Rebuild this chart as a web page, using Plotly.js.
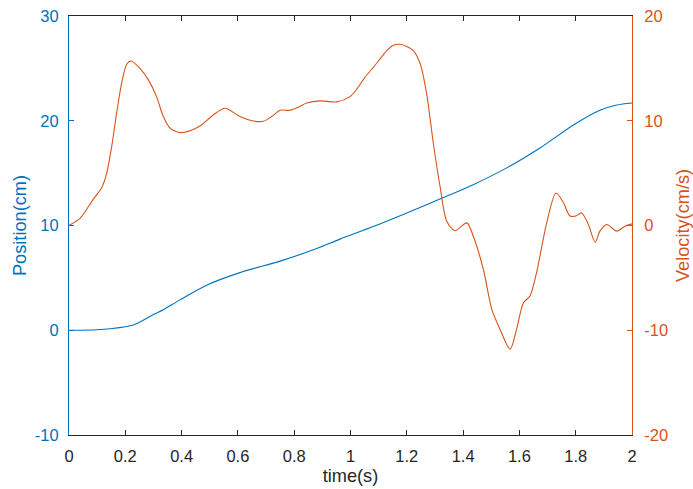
<!DOCTYPE html>
<html>
<head>
<meta charset="utf-8">
<script src="https://cdn.plot.ly/plotly-3.0.1.min.js"></script>
<style>
  html, body { margin: 0; padding: 0; background: #ffffff; }
  #chart { width: 693px; height: 489px; }
</style>
</head>
<body>
<div id="chart"></div>
<script>
// Position of the cart over time (left axis)
const posTime = [0, 0.1, 0.146, 0.229, 0.30, 0.335, 0.394, 0.489, 0.607, 0.75, 0.88, 0.963,
                 1.081, 1.2, 1.324, 1.436, 1.555, 1.673, 1.792, 1.886, 1.946, 2.0];
const position = [0, 0.05, 0.14, 0.5, 1.5, 1.95, 2.9, 4.3, 5.5, 6.6, 7.8, 8.7,
                  9.9, 11.2, 12.6, 13.9, 15.5, 17.4, 19.6, 21.0, 21.5, 21.7];

// Velocity over time (right axis)
const velTime = [0, 0.04, 0.086, 0.116, 0.134, 0.152, 0.169, 0.187, 0.205, 0.22, 0.252, 0.282,
                 0.311, 0.335, 0.359, 0.388, 0.41, 0.465, 0.51, 0.554, 0.607, 0.65, 0.69, 0.72,
                 0.75, 0.785, 0.815, 0.844, 0.892, 0.951, 0.998, 1.022, 1.05, 1.081, 1.105, 1.129,
                 1.152, 1.175, 1.2, 1.223, 1.247, 1.271, 1.294, 1.318, 1.342, 1.371, 1.413, 1.436,
                 1.472, 1.502, 1.531, 1.567, 1.59, 1.614, 1.638, 1.661, 1.697, 1.73, 1.756, 1.78,
                 1.80, 1.821, 1.845, 1.869, 1.886, 1.91, 1.946, 1.975, 2.0];
const velocity = [0, 0.7, 2.5, 3.6, 5.0, 7.6, 10.7, 13.6, 15.4, 15.7, 15.0, 13.9,
                  12.3, 10.4, 9.3, 8.9, 8.9, 9.5, 10.5, 11.2, 10.4, 10.0, 9.95, 10.4,
                  11.0, 11.0, 11.3, 11.7, 11.9, 11.8, 12.3, 13.0, 14.1, 15.1, 15.9, 16.7,
                  17.2, 17.3, 17.1, 16.7, 15.5, 12.5, 7.9, 3.75, 0.4, -0.5, 0.25, -1.0,
                  -4.2, -8.0, -9.9, -11.8, -9.9, -7.4, -6.7, -4.5, 0.26, 3.1, 2.2, 0.9,
                  0.9, 1.2, 0.1, -1.6, -0.54, 0.1, -0.54, -0.06, 0.16];

const xTicks = [0, 0.2, 0.4, 0.6, 0.8, 1, 1.2, 1.4, 1.6, 1.8, 2];
const xTickText = ['0', '0.2', '0.4', '0.6', '0.8', '1', '1.2', '1.4', '1.6', '1.8', '2'];
const posTicks = [-10, 0, 10, 20, 30];
const posTickText = ['-10', '0', '10', '20', '30'];
const velTicks = [-20, -10, 0, 10, 20];
const velTickText = ['-20', '-10', '0', '10', '20'];

const BLUE = '#0072BD';
const ORANGE = '#D95319';
const DARK = '#262626';
const FONT = 'Liberation Sans, Arial, Helvetica, sans-serif';
const TICK_SIZE = 16.5;
const LABEL_SIZE = 18.2;

const traces = [
  {
    x: posTime, y: position, type: 'scatter', mode: 'lines',
    line: { color: BLUE, width: 1.1, shape: 'spline', smoothing: 0.8 },
    yaxis: 'y', hoverinfo: 'x+y'
  },
  {
    x: velTime, y: velocity, type: 'scatter', mode: 'lines',
    line: { color: ORANGE, width: 1.1, shape: 'spline', smoothing: 0.8 },
    yaxis: 'y2', hoverinfo: 'x+y'
  }
];

const layout = {
  width: 693, height: 489,
  margin: { l: 69, r: 61, t: 16, b: 54, pad: 0 },
  paper_bgcolor: '#ffffff', plot_bgcolor: '#ffffff',
  showlegend: false,
  font: { family: FONT, size: TICK_SIZE, color: DARK },
  xaxis: {
    range: [0, 2], tickvals: xTicks, ticktext: xTickText,
    showgrid: false, zeroline: false,
    showline: true, linecolor: DARK, linewidth: 1, mirror: 'ticks',
    ticks: 'inside', ticklen: 5, tickcolor: DARK, tickwidth: 1,
    tickfont: { family: FONT, size: TICK_SIZE, color: DARK },
    ticklabelstandoff: 6,
    title: { text: 'time(s)', font: { family: FONT, size: LABEL_SIZE, color: DARK }, standoff: 5 }
  },
  yaxis: {
    range: [-10, 30], tickvals: posTicks, ticktext: posTickText,
    showgrid: false, zeroline: false,
    showline: true, linecolor: BLUE, linewidth: 1,
    ticks: 'inside', ticklen: 5, tickcolor: BLUE, tickwidth: 1,
    tickfont: { family: FONT, size: TICK_SIZE, color: BLUE },
    ticklabelstandoff: 6,
    title: { text: 'Position(cm)', font: { family: FONT, size: LABEL_SIZE, color: BLUE }, standoff: 3 }
  },
  yaxis2: {
    range: [-20, 20], tickvals: velTicks, ticktext: velTickText,
    overlaying: 'y', side: 'right', anchor: 'x',
    showgrid: false, zeroline: false,
    showline: true, linecolor: ORANGE, linewidth: 1,
    ticks: 'inside', ticklen: 5, tickcolor: ORANGE, tickwidth: 1,
    tickfont: { family: FONT, size: TICK_SIZE, color: ORANGE },
    ticklabelstandoff: 8,
    title: { text: 'Velocity(cm/s)', font: { family: FONT, size: LABEL_SIZE, color: ORANGE }, standoff: 10 }
  }
};

Plotly.newPlot('chart', traces, layout, { displayModeBar: false, staticPlot: true });
</script>
</body>
</html>
